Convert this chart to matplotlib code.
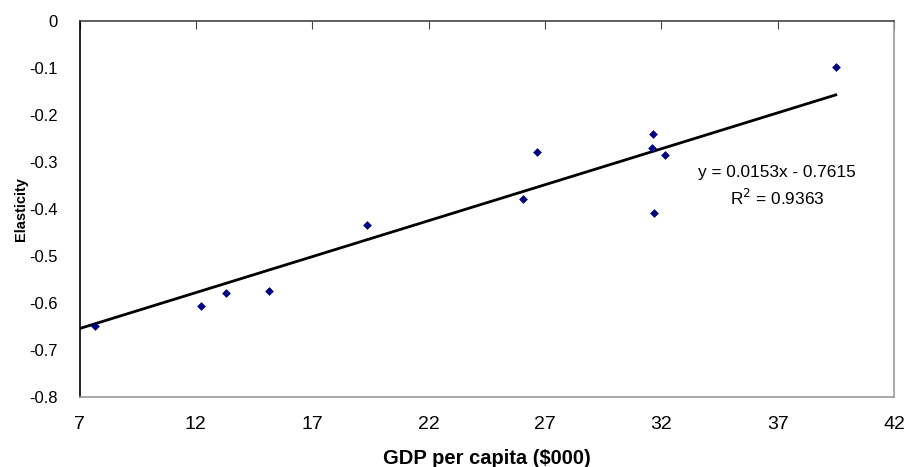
import numpy as np
import matplotlib
matplotlib.use('Agg')
import matplotlib.pyplot as plt

plt.rcParams['font.family'] = ['Liberation Sans', 'DejaVu Sans']

# GDP per capita ($000) vs. elasticity
gdp = [7.67, 12.23, 13.31, 15.15, 19.34, 26.07, 26.65, 31.63, 31.59, 32.17, 31.70, 39.50]
elasticity = [-0.648, -0.607, -0.579, -0.574, -0.434, -0.379, -0.279, -0.241, -0.270, -0.286, -0.408, -0.098]

# trendline as reported on the chart
slope, icpt = 0.0153, -0.7615

x_ticks = [7, 12, 17, 22, 27, 32, 37, 42]
y_ticks = [0, -0.1, -0.2, -0.3, -0.4, -0.5, -0.6, -0.7, -0.8]
y_labels = ['0', '-0.1', '-0.2', '-0.3', '-0.4', '-0.5', '-0.6', '-0.7', '-0.8']

fig = plt.figure(figsize=(9.06, 4.67), dpi=100)
ax = fig.add_axes([79.5 / 906, 1 - 397 / 467, (894 - 79.5) / 906, (397 - 21) / 467])

ax.scatter(gdp, elasticity, marker='D', s=20, color='#000080', zorder=3, linewidths=0)

# linear trendline, from the axis start to the last point
xs = np.array([7, max(gdp)])
ax.plot(xs, slope * xs + icpt, color='black', lw=2, zorder=2)

ax.text(36.97, -0.323, 'y = 0.0153x - 0.7615', ha='center', va='center', fontsize=12.4)
ax.text(36.97, -0.377, 'R$^2$ = 0.9363', ha='center', va='center', fontsize=12.4)

ax.set_xlim(7, 42)
ax.set_ylim(-0.8, 0)

# x axis sits at y=0 (top), ticks point down, labels below the plot
ax.set_xticks(x_ticks)
ax.tick_params(axis='x', which='both', top=True, bottom=False, direction='in',
               length=6, color='#444444', labelsize=14, pad=14)
ax.set_yticks(y_ticks)
ax.set_yticklabels(y_labels)
ax.tick_params(axis='y', left=False, labelsize=12, pad=12)

ax.spines['top'].set_color('#444444')
ax.spines['left'].set_color('black')
ax.spines['right'].set_color('#999999')
ax.spines['bottom'].set_color('#999999')
for s in ax.spines.values():
    s.set_linewidth(1.2)

ax.set_xlabel('GDP per capita ($000)', fontsize=14.5, fontweight='bold', labelpad=11)
ax.set_ylabel('Elasticity', fontsize=10.5, fontweight='bold', labelpad=1)

fig.savefig('out.png', dpi=100)
